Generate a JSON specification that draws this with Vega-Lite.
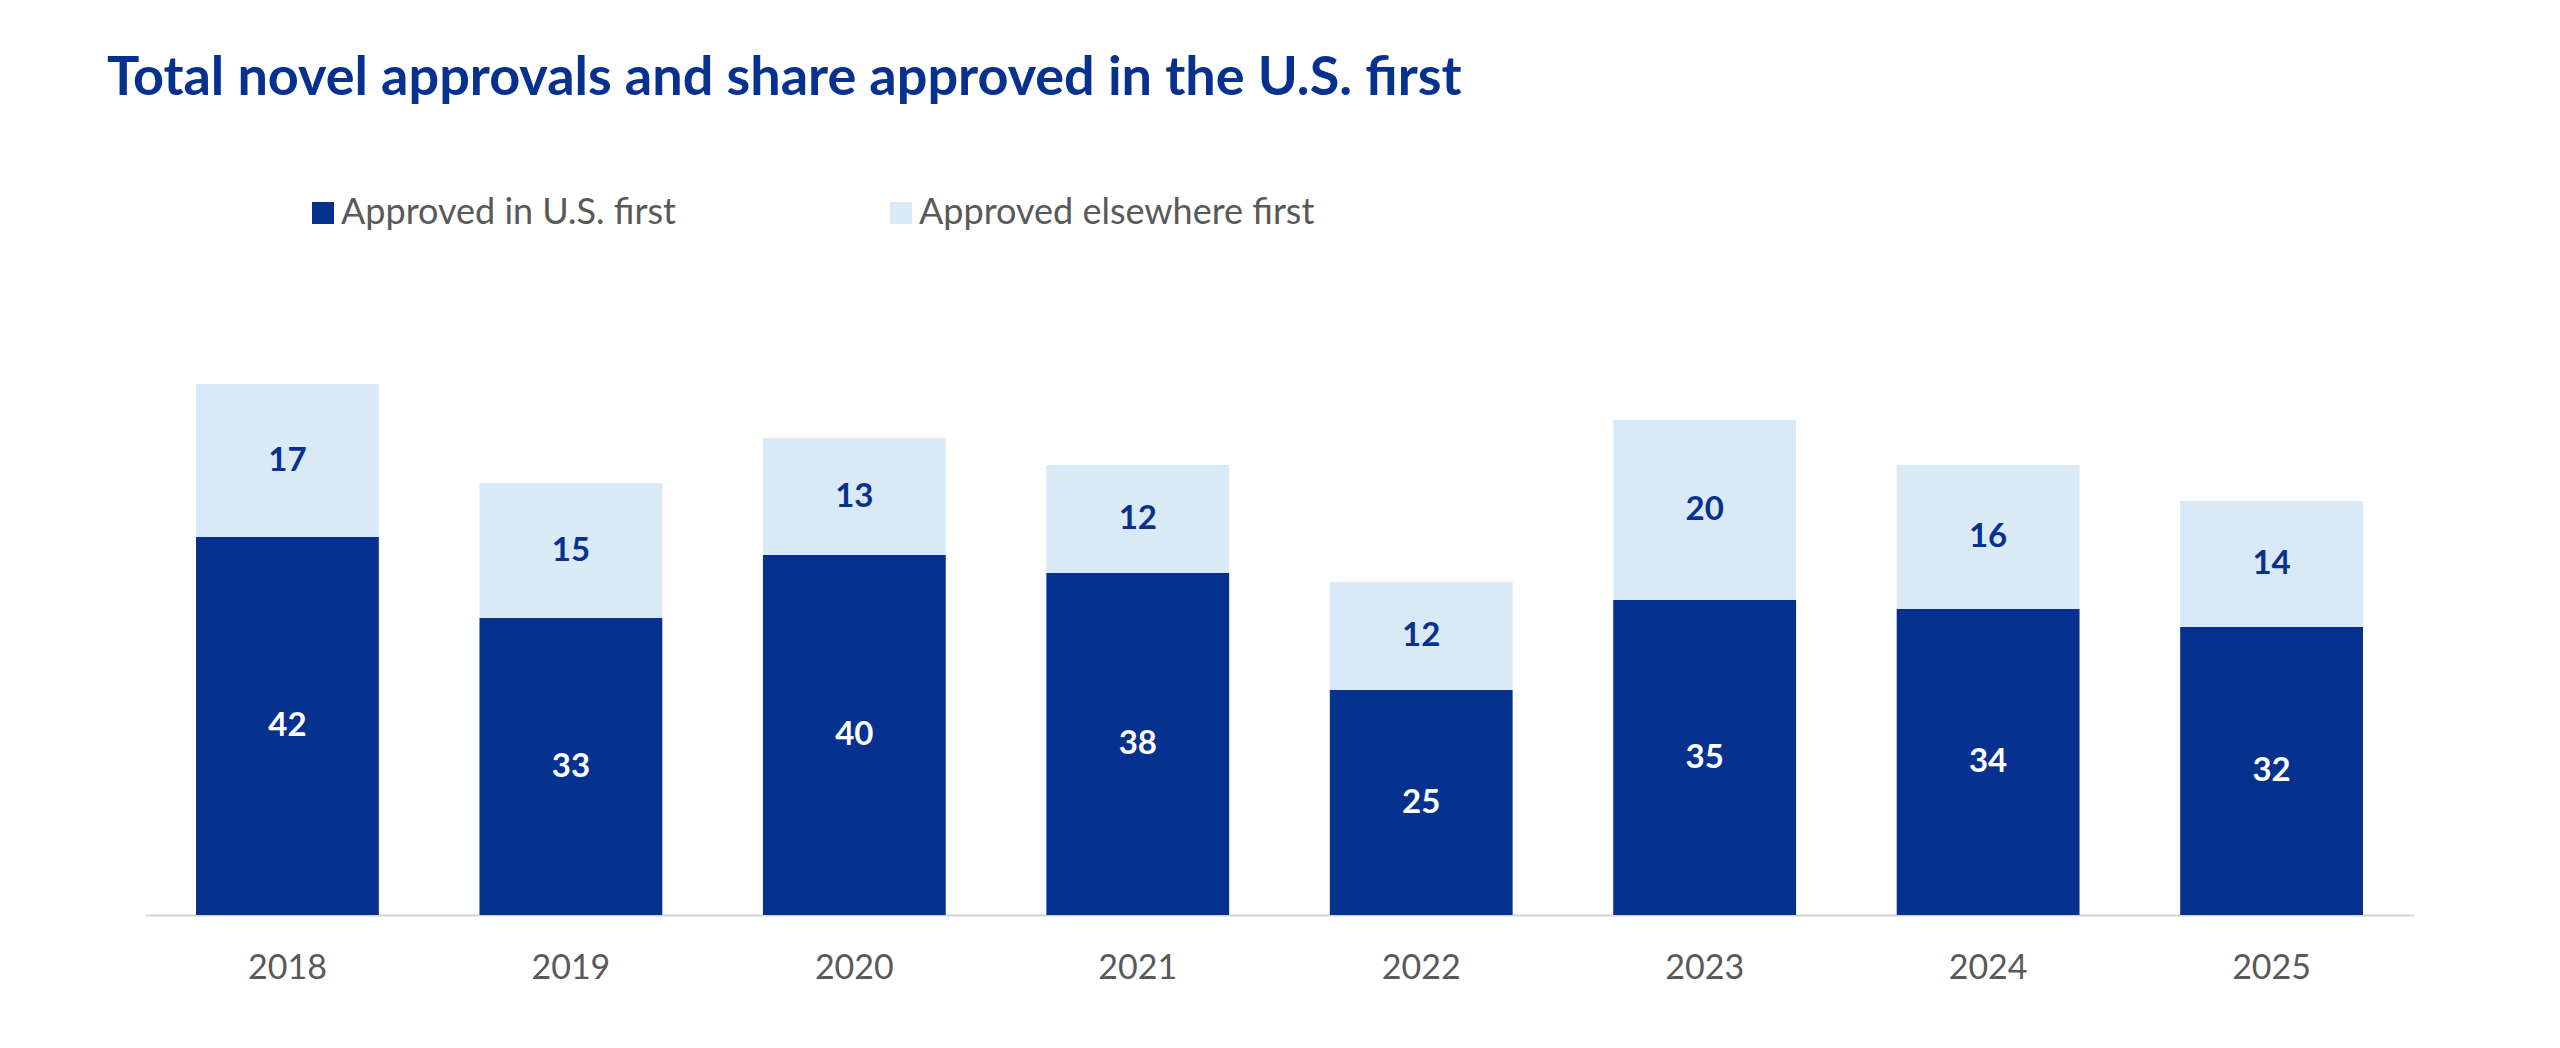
{
  "$schema": "https://vega.github.io/schema/vega-lite/v6.json",
  "autosize": {"type": "none"},
  "width": 2269,
  "height": 630,
  "padding": {"left": 145, "top": 285, "right": 146, "bottom": 133},
  "background": "white",
  "title": {
    "text": "Total novel approvals and share approved in the U.S. first",
    "anchor": "start",
    "frame": "group",
    "font": "Lato",
    "fontSize": 54,
    "fontWeight": "bold",
    "color": "#06318F",
    "baseline": "alphabetic",
    "offset": 46,
    "dx": -38
  },
  "config": {
    "view": {"stroke": null}
  },
  "data": {
    "values": [
      {"year": "2018", "series": "Approved in U.S. first", "count": 42},
      {"year": "2018", "series": "Approved elsewhere first", "count": 17},
      {"year": "2019", "series": "Approved in U.S. first", "count": 33},
      {"year": "2019", "series": "Approved elsewhere first", "count": 15},
      {"year": "2020", "series": "Approved in U.S. first", "count": 40},
      {"year": "2020", "series": "Approved elsewhere first", "count": 13},
      {"year": "2021", "series": "Approved in U.S. first", "count": 38},
      {"year": "2021", "series": "Approved elsewhere first", "count": 12},
      {"year": "2022", "series": "Approved in U.S. first", "count": 25},
      {"year": "2022", "series": "Approved elsewhere first", "count": 12},
      {"year": "2023", "series": "Approved in U.S. first", "count": 35},
      {"year": "2023", "series": "Approved elsewhere first", "count": 20},
      {"year": "2024", "series": "Approved in U.S. first", "count": 34},
      {"year": "2024", "series": "Approved elsewhere first", "count": 16},
      {"year": "2025", "series": "Approved in U.S. first", "count": 32},
      {"year": "2025", "series": "Approved elsewhere first", "count": 14}
    ]
  },
  "encoding": {
    "x": {
      "field": "year",
      "type": "ordinal",
      "scale": {"paddingInner": 0.355, "paddingOuter": 0.18},
      "axis": {
        "title": null,
        "labelAngle": 0,
        "labelFont": "Lato",
        "labelFontSize": 34,
        "labelColor": "#595959",
        "labelPadding": 36,
        "ticks": false,
        "domainColor": "#D0D4DB",
        "domainWidth": 2
      }
    },
    "y": {
      "field": "count",
      "type": "quantitative",
      "stack": "zero",
      "scale": {"domain": [0, 70]},
      "axis": null
    }
  },
  "layer": [
    {
      "mark": {"type": "bar"},
      "encoding": {
        "color": {
          "field": "series",
          "type": "nominal",
          "sort": ["Approved in U.S. first", "Approved elsewhere first"],
          "scale": {
            "domain": ["Approved in U.S. first", "Approved elsewhere first"],
            "range": ["#06318F", "#DAE9F6"]
          },
          "legend": {
            "title": null,
            "orient": "none",
            "direction": "horizontal",
            "legendX": 160,
            "legendY": -90,
            "symbolType": "square",
            "symbolSize": 484,
            "symbolStrokeWidth": 0,
            "labelFont": "Lato",
            "labelFontSize": 36,
            "labelColor": "#595959",
            "labelOffset": 0,
            "columnPadding": 207,
            "labelLimit": 600
          }
        },
        "order": {"field": "series", "sort": "descending"}
      }
    },
    {
      "mark": {
        "type": "text",
        "font": "Lato",
        "fontSize": 33,
        "fontWeight": "bold",
        "baseline": "middle"
      },
      "encoding": {
        "y": {
          "field": "count",
          "type": "quantitative",
          "stack": "zero",
          "bandPosition": 0.5
        },
        "detail": {"field": "series"},
        "order": {"field": "series", "sort": "descending"},
        "text": {"field": "count", "type": "quantitative"},
        "color": {
          "condition": {"test": "datum.series === 'Approved in U.S. first'", "value": "white"},
          "value": "#06318F"
        }
      }
    }
  ]
}
